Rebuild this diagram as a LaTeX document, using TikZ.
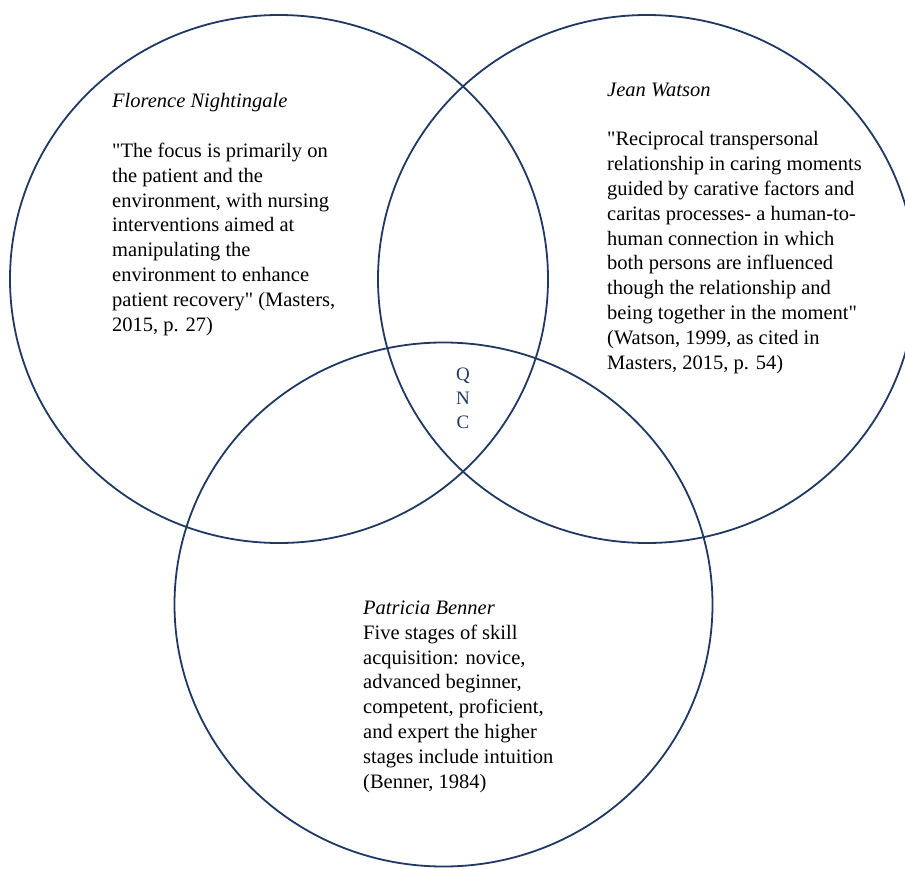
\documentclass[tikz,border=0pt]{standalone}
\usepackage{fontspec}
\setmainfont{Liberation Serif}
\usepackage{xcolor}
\definecolor{ringblue}{HTML}{203864}
\usetikzlibrary{positioning,shapes.geometric}
% straight double quote, past the TeX ligature mapping
\newcommand\sq{{\XeTeXglyph\XeTeXglyphindex "quotedbl"\relax}}

\begin{document}
\begin{tikzpicture}[x=1pt, y=-1pt,
    ring/.style={ellipse, draw=ringblue, line width=1.8pt, inner sep=0pt,
      minimum width=538pt, minimum height=528pt},
    quote/.style={anchor=base west, align=left, inner sep=0pt,
      font=\fontsize{20.5}{24.8}\selectfont},
    core/.style={anchor=base, align=center, inner sep=0pt, text=ringblue,
      font=\fontsize{19}{24}\selectfont}]
  \useasboundingbox (0,0) rectangle (905,869);
  \clip (0,0) rectangle (905,869);
  % the three theorists
  \node[ring] (nightingale) at (279,279) {};
  \node[ring] (watson) at (647,279) {};
  \node[ring, minimum height=524pt] (benner) at (443.5,604.5) {};
  % texts (placed by the baseline of their last line)
  \node[quote] (fntext) at (112,331) {\textit{Florence Nightingale}\\[24.8pt]
    \sq The focus is primarily on\\ the patient and the\\
    environment, with nursing\\ interventions aimed at\\
    manipulating the\\ environment to enhance\\
    patient recovery\sq{} (Masters,\\ 2015, p. 27)};
  \node[quote] (jwtext) at (607,369) {\textit{Jean Watson}\\[24.8pt]
    \sq Reciprocal transpersonal\\ relationship in caring moments\\
    guided by carative factors and\\ caritas processes- a human-to-\\
    human connection in which\\ both persons are influenced\\
    though the relationship and\\ being together in the moment\sq\\
    (Watson, 1999, as cited in\\ Masters, 2015, p. 54)};
  \node[quote] (pbtext) at (363,788) {\textit{Patricia Benner}\\
    Five stages of skill\\ acquisition: novice,\\ advanced beginner,\\
    competent, proficient,\\ and expert the higher\\
    stages include intuition\\ (Benner, 1984)};
  \node[core] (qnc) at (463,428) {Q\\N\\C};
\end{tikzpicture}
\end{document}
